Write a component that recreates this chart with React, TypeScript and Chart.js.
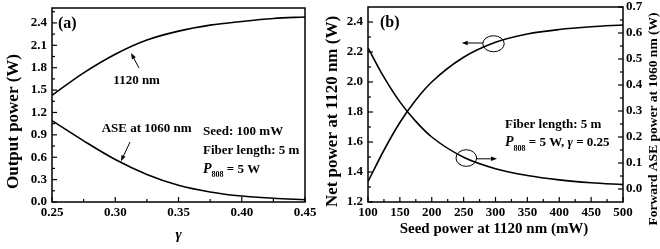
import { useEffect, useRef } from "react";
import { Chart, registerables } from "chart.js";

Chart.register(...registerables);

// ---------- Panel (a) data ----------
const gammaValues = [0.25, 0.275, 0.3, 0.325, 0.35, 0.375, 0.4, 0.425, 0.45];
const power1120 = [1.43, 1.73, 1.98, 2.17, 2.29, 2.37, 2.42, 2.46, 2.48];
const ase1060 = [1.09, 0.82, 0.57, 0.37, 0.225, 0.135, 0.08, 0.05, 0.03];
const gammaTicks = [0.25, 0.3, 0.35, 0.4, 0.45];
const outputTicks = [0, 0.3, 0.6, 0.9, 1.2, 1.5, 1.8, 2.1, 2.4];

// ---------- Panel (b) data ----------
const seedPower = [100, 125, 150, 175, 200, 250, 300, 350, 400, 450, 500];
const netPower1120 = [1.336, 1.545, 1.73, 1.88, 2.0, 2.165, 2.265, 2.32, 2.35, 2.368, 2.38];
const forwardAse1060 = [0.543, 0.43, 0.335, 0.26, 0.2, 0.122, 0.078, 0.052, 0.035, 0.024, 0.017];
const seedTicks = [100, 150, 200, 250, 300, 350, 400, 450, 500];
const netTicks = [1.2, 1.4, 1.6, 1.8, 2.0, 2.2, 2.4];
const aseTicks = [0, 0.1, 0.2, 0.3, 0.4, 0.5, 0.6, 0.7];

const FAMILY = '"Liberation Serif", "Times New Roman", serif';
const f = (size: number, style = "bold") => `${style} ${size}px ${FAMILY}`;

type Run = { text: string; font: string; dy?: number };

function drawRuns(ctx: CanvasRenderingContext2D, runs: Run[], x: number, y: number) {
  let cx = x;
  for (const r of runs) {
    ctx.font = r.font;
    ctx.fillText(r.text, cx, y + (r.dy || 0));
    cx += ctx.measureText(r.text).width;
  }
}

function axisOpts(
  min: number,
  max: number,
  ticks: number[],
  decimals: number,
  size: number,
  horizontal: boolean,
  padding: number,
  position: string
) {
  return {
    type: "linear",
    position,
    min,
    max,
    grid: { display: false, drawTicks: false },
    border: { display: false },
    title: { display: false },
    afterBuildTicks: (scale: any) => {
      scale.ticks = ticks.map((v) => ({ value: v }));
    },
    afterFit: (scale: any) => {
      if (horizontal) scale.height = size;
      else scale.width = size;
      scale.paddingLeft = 0;
      scale.paddingRight = 0;
      scale.paddingTop = 0;
      scale.paddingBottom = 0;
    },
    ticks: {
      color: "#000",
      font: { family: FAMILY, size: 13, weight: "bold" },
      padding,
      autoSkip: false,
      maxRotation: 0,
      minRotation: 0,
      callback: (v: any) => Number(v).toFixed(decimals),
    },
  };
}

type TickSpec = { axis: string; majors: number[]; side: "bottom" | "left" | "right" };

function framePlugin(specs: TickSpec[]) {
  return {
    id: "frameTicks",
    afterDatasetsDraw(chart: any) {
      const { ctx, chartArea } = chart;
      const { left, right, top, bottom } = chartArea;
      ctx.save();
      ctx.strokeStyle = "#000";
      ctx.lineWidth = 1.5;
      ctx.strokeRect(left, top, right - left, bottom - top);
      ctx.lineWidth = 1.2;
      for (const s of specs) {
        const scale = chart.scales[s.axis];
        const step = s.majors[1] - s.majors[0];
        const minors: number[] = [];
        for (let i = -1; i < s.majors.length; i++) {
          const m = (i < 0 ? s.majors[0] - step : s.majors[i]) + step / 2;
          if (m > scale.min + 1e-9 && m < scale.max - 1e-9) minors.push(m);
        }
        const draw = (v: number, len: number) => {
          const p = scale.getPixelForValue(v);
          ctx.beginPath();
          if (s.side === "bottom") {
            ctx.moveTo(p, bottom);
            ctx.lineTo(p, bottom - len);
          } else if (s.side === "left") {
            ctx.moveTo(left, p);
            ctx.lineTo(left + len, p);
          } else {
            ctx.moveTo(right, p);
            ctx.lineTo(right - len, p);
          }
          ctx.stroke();
        };
        s.majors.forEach((v) => draw(v, 5));
        minors.forEach((v) => draw(v, 3));
      }
      ctx.restore();
    },
  };
}

type Ann =
  | { kind: "text"; x: number; y: number; runs: Run[] }
  | { kind: "arrow"; x1: number; y1: number; x2: number; y2: number }
  | { kind: "ellipse"; x: number; y: number; rx: number; ry: number };

function annotationPlugin(items: Ann[], yAxis: string) {
  return {
    id: "annotations",
    afterDatasetsDraw(chart: any) {
      const { ctx } = chart;
      const xs = chart.scales.x;
      const ys = chart.scales[yAxis];
      ctx.save();
      ctx.fillStyle = "#000";
      ctx.strokeStyle = "#000";
      ctx.textBaseline = "middle";
      ctx.textAlign = "left";
      for (const a of items) {
        if (a.kind === "text") {
          drawRuns(ctx, a.runs, xs.getPixelForValue(a.x), ys.getPixelForValue(a.y));
        } else if (a.kind === "arrow") {
          const x1 = xs.getPixelForValue(a.x1);
          const y1 = ys.getPixelForValue(a.y1);
          const x2 = xs.getPixelForValue(a.x2);
          const y2 = ys.getPixelForValue(a.y2);
          const ang = Math.atan2(y2 - y1, x2 - x1);
          const hl = 6;
          const hw = 2.2;
          ctx.lineWidth = 1;
          ctx.beginPath();
          ctx.moveTo(x1, y1);
          ctx.lineTo(x2 - Math.cos(ang) * hl * 0.8, y2 - Math.sin(ang) * hl * 0.8);
          ctx.stroke();
          ctx.beginPath();
          ctx.moveTo(x2, y2);
          ctx.lineTo(
            x2 - Math.cos(ang) * hl - Math.sin(ang) * hw,
            y2 - Math.sin(ang) * hl + Math.cos(ang) * hw
          );
          ctx.lineTo(
            x2 - Math.cos(ang) * hl + Math.sin(ang) * hw,
            y2 - Math.sin(ang) * hl - Math.cos(ang) * hw
          );
          ctx.closePath();
          ctx.fill();
        } else {
          ctx.lineWidth = 1;
          ctx.beginPath();
          ctx.ellipse(xs.getPixelForValue(a.x), ys.getPixelForValue(a.y), a.rx, a.ry, 0, 0, Math.PI * 2);
          ctx.stroke();
        }
      }
      ctx.restore();
    },
  };
}

type Label = {
  runs: Run[];
  x: number;
  y: number;
  rot?: number;
  align?: CanvasTextAlign;
  baseline?: CanvasTextBaseline;
};

function labelPlugin(labels: Label[]) {
  return {
    id: "labels",
    afterDraw(chart: any) {
      const { ctx } = chart;
      ctx.save();
      ctx.fillStyle = "#000";
      for (const l of labels) {
        ctx.save();
        ctx.translate(l.x, l.y);
        if (l.rot) ctx.rotate(l.rot);
        ctx.textBaseline = l.baseline || "middle";
        ctx.textAlign = "left";
        let w = 0;
        for (const r of l.runs) {
          ctx.font = r.font;
          w += ctx.measureText(r.text).width;
        }
        const startX = (l.align || "center") === "center" ? -w / 2 : 0;
        drawRuns(ctx, l.runs, startX, 0);
        ctx.restore();
      }
      ctx.restore();
    },
  };
}

const lineStyle = {
  borderColor: "#000",
  borderWidth: 1.6,
  pointRadius: 0,
  fill: false,
  cubicInterpolationMode: "monotone",
};

function configA(): any {
  return {
    type: "line",
    data: {
      datasets: [
        { ...lineStyle, label: "1120 nm", data: gammaValues.map((x, i) => ({ x, y: power1120[i] })) },
        { ...lineStyle, label: "ASE at 1060 nm", data: gammaValues.map((x, i) => ({ x, y: ase1060[i] })) },
      ],
    },
    options: {
      responsive: false,
      animation: false,
      layout: { padding: { left: 0, right: 15, top: 8, bottom: 0 } },
      plugins: { legend: { display: false }, tooltip: { enabled: false } },
      scales: {
        x: axisOpts(0.25, 0.45, gammaTicks, 2, 47, true, 3, "bottom"),
        y: axisOpts(0, 2.6, outputTicks, 1, 52, false, 5, "left"),
      },
    },
    plugins: [
      framePlugin([
        { axis: "x", majors: gammaTicks, side: "bottom" },
        { axis: "y", majors: outputTicks, side: "left" },
      ]),
      annotationPlugin(
        [
          { kind: "text", x: 0.2985, y: 1.63, runs: [{ text: "1120 nm", font: f(13) }] },
          { kind: "arrow", x1: 0.3188, y1: 1.795, x2: 0.3125, y2: 1.996 },
          { kind: "text", x: 0.2893, y: 0.983, runs: [{ text: "ASE at 1060 nm", font: f(13) }] },
          { kind: "arrow", x1: 0.3117, y1: 0.804, x2: 0.3045, y2: 0.545 },
          { kind: "text", x: 0.3694, y: 0.9375, runs: [{ text: "Seed: 100 mW", font: f(13) }] },
          { kind: "text", x: 0.3694, y: 0.69, runs: [{ text: "Fiber length: 5 m", font: f(13) }] },
          {
            kind: "text",
            x: 0.3694,
            y: 0.44,
            runs: [
              { text: "P", font: f(14, "italic bold") },
              { text: "808", font: f(8), dy: 6 },
              { text: " = 5 W", font: f(13) },
            ],
          },
        ],
        "y"
      ),
      labelPlugin([
        { runs: [{ text: "(a)", font: f(16) }], x: 58, y: 23.5, align: "left" },
        { runs: [{ text: "Output power (W)", font: f(17) }], x: 14, y: 121.5, rot: -Math.PI / 2 },
        { runs: [{ text: "γ", font: f(15, "italic bold") }], x: 178.5, y: 238.5, baseline: "alphabetic" },
      ]),
    ],
  };
}

function configB(): any {
  return {
    type: "line",
    data: {
      datasets: [
        {
          ...lineStyle,
          label: "Net power at 1120 nm",
          yAxisID: "y",
          data: seedPower.map((x, i) => ({ x, y: netPower1120[i] })),
        },
        {
          ...lineStyle,
          label: "Forward ASE power at 1060 nm",
          yAxisID: "y1",
          data: seedPower.map((x, i) => ({ x, y: forwardAse1060[i] })),
        },
      ],
    },
    options: {
      responsive: false,
      animation: false,
      layout: { padding: { left: 0, right: 0, top: 7, bottom: 0 } },
      plugins: { legend: { display: false }, tooltip: { enabled: false } },
      scales: {
        x: axisOpts(100, 500, seedTicks, 0, 47, true, 3, "bottom"),
        y: axisOpts(1.2, 2.5, netTicks, 1, 48, false, 5, "left"),
        y1: axisOpts(-0.05, 0.7, aseTicks, 1, 37, false, 3, "right"),
      },
    },
    plugins: [
      framePlugin([
        { axis: "x", majors: seedTicks, side: "bottom" },
        { axis: "y", majors: netTicks, side: "left" },
        { axis: "y1", majors: aseTicks, side: "right" },
      ]),
      annotationPlugin(
        [
          { kind: "ellipse", x: 296.9, y: 2.255, rx: 10.7, ry: 8 },
          { kind: "arrow", x1: 280.4, y1: 2.26, x2: 247, y2: 2.26 },
          { kind: "ellipse", x: 254.2, y: 1.493, rx: 10.3, ry: 8.3 },
          { kind: "arrow", x1: 270.5, y1: 1.488, x2: 302.4, y2: 1.488 },
          { kind: "text", x: 314.9, y: 1.716, runs: [{ text: "Fiber length: 5 m", font: f(13) }] },
          {
            kind: "text",
            x: 314.9,
            y: 1.596,
            runs: [
              { text: "P", font: f(14, "italic bold") },
              { text: "808", font: f(8), dy: 6 },
              { text: " = 5 W, ", font: f(13) },
              { text: "γ", font: f(13, "italic bold") },
              { text: " = 0.25", font: f(13) },
            ],
          },
        ],
        "y"
      ),
      labelPlugin([
        { runs: [{ text: "(b)", font: f(16) }], x: 60, y: 22.7, align: "left" },
        { runs: [{ text: "Net power at 1120 nm (W)", font: f(17) }], x: 13, y: 111.5, rot: -Math.PI / 2 },
        {
          runs: [{ text: "Seed power at 1120 nm (mW)", font: f(15) }],
          x: 174,
          y: 233,
          baseline: "alphabetic",
        },
        {
          runs: [{ text: "Forward ASE power at 1060 nm (W)", font: f(13.5) }],
          x: 334,
          y: 119,
          rot: -Math.PI / 2,
        },
      ]),
    ],
  };
}

export default function App() {
  const refA = useRef<HTMLCanvasElement>(null);
  const refB = useRef<HTMLCanvasElement>(null);
  useEffect(() => {
    const a = new Chart(refA.current as HTMLCanvasElement, configA());
    const b = new Chart(refB.current as HTMLCanvasElement, configB());
    return () => {
      a.destroy();
      b.destroy();
    };
  }, []);
  return (
    <div style={{ position: "absolute", left: 0, top: 0, width: 660, height: 249, background: "#fff", overflow: "hidden" }}>
      <canvas
        ref={refA}
        width={320}
        height={249}
        style={{ position: "absolute", left: 0, top: 0, width: 320, height: 249, display: "block" }}
      />
      <canvas
        ref={refB}
        width={340}
        height={249}
        style={{ position: "absolute", left: 320, top: 0, width: 340, height: 249, display: "block" }}
      />
    </div>
  );
}
